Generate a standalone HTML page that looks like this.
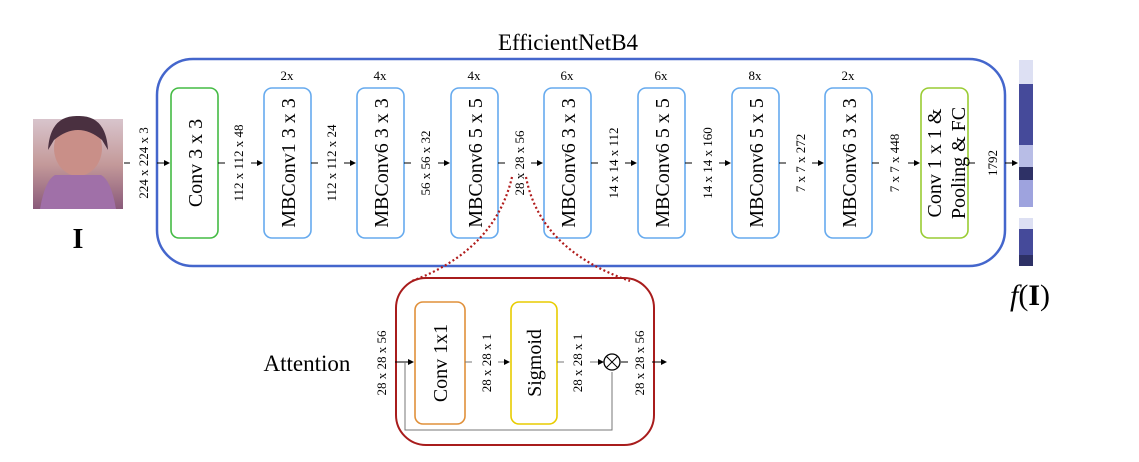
<!DOCTYPE html>
<html><head><meta charset="utf-8"><style>
body{margin:0;background:#fff;}
svg{display:block;font-family:"Liberation Serif",serif;}
</style></head><body>
<svg width="1139" height="462" viewBox="0 0 1139 462" xmlns="http://www.w3.org/2000/svg">
<defs>
<marker id="a" markerWidth="6" markerHeight="6" refX="5" refY="3" orient="auto" markerUnits="userSpaceOnUse"><path d="M0,0 L6,3 L0,6 z" fill="#000"/></marker>
<linearGradient id="face" x1="0" y1="0" x2="0" y2="1"><stop offset="0" stop-color="#d8c4cc"/><stop offset="0.5" stop-color="#c49a9a"/><stop offset="1" stop-color="#8a5a7a"/></linearGradient>
</defs>
<text x="568" y="50" font-size="23" text-anchor="middle">EfficientNetB4</text>
<rect x="157" y="59" width="848" height="207" rx="36" fill="none" stroke="#4466cc" stroke-width="2.5"/>
<!-- face -->
<rect x="33" y="119" width="90" height="90" fill="url(#face)"/>
<ellipse cx="78" cy="148" rx="24" ry="28" fill="#c98f88"/>
<path d="M48,150 Q50,115 78,116 Q106,115 108,150 L102,140 Q78,120 54,140 z" fill="#4a3040"/>
<path d="M40,209 Q45,180 55,175 L101,175 Q111,180 116,209 z" fill="#a070a8"/>
<text x="78" y="248" font-size="28" font-weight="bold" text-anchor="middle">I</text>
<g fill="none" stroke-width="1.6">
<rect x="171" y="88" width="47" height="150" rx="8" stroke="#44bb44"/>
<rect x="264" y="88" width="47" height="150" rx="8" stroke="#66aaee"/>
<rect x="357" y="88" width="47" height="150" rx="8" stroke="#66aaee"/>
<rect x="451" y="88" width="47" height="150" rx="8" stroke="#66aaee"/>
<rect x="544" y="88" width="47" height="150" rx="8" stroke="#66aaee"/>
<rect x="638" y="88" width="47" height="150" rx="8" stroke="#66aaee"/>
<rect x="732" y="88" width="47" height="150" rx="8" stroke="#66aaee"/>
<rect x="825" y="88" width="47" height="150" rx="8" stroke="#66aaee"/>
<rect x="921" y="88" width="47" height="150" rx="8" stroke="#99cc33"/>
</g>
<g stroke="#000" stroke-width="1">
<line x1="124" y1="163" x2="130" y2="163"/><line x1="157" y1="163" x2="169" y2="163" marker-end="url(#a)"/>
<line x1="218" y1="163" x2="225" y2="163"/><line x1="251" y1="163" x2="262" y2="163" marker-end="url(#a)"/>
<line x1="311" y1="163" x2="318" y2="163"/><line x1="344" y1="163" x2="355" y2="163" marker-end="url(#a)"/>
<line x1="404" y1="163" x2="411" y2="163"/><line x1="438" y1="163" x2="449" y2="163" marker-end="url(#a)"/>
<line x1="498" y1="163" x2="505" y2="163"/><line x1="531" y1="163" x2="542" y2="163" marker-end="url(#a)"/>
<line x1="591" y1="163" x2="598" y2="163"/><line x1="625" y1="163" x2="636" y2="163" marker-end="url(#a)"/>
<line x1="685" y1="163" x2="692" y2="163"/><line x1="719" y1="163" x2="730" y2="163" marker-end="url(#a)"/>
<line x1="779" y1="163" x2="786" y2="163"/><line x1="812" y1="163" x2="823" y2="163" marker-end="url(#a)"/>
<line x1="872" y1="163" x2="879" y2="163"/><line x1="908" y1="163" x2="919" y2="163" marker-end="url(#a)"/>
<line x1="968" y1="163" x2="975" y2="163"/><line x1="1005" y1="163" x2="1017" y2="163" marker-end="url(#a)"/>
</g>
<g font-size="20" text-anchor="middle">
<text transform="translate(202,163) rotate(-90)">Conv 3 x 3</text>
<text transform="translate(295,163) rotate(-90)">MBConv1 3 x 3</text>
<text transform="translate(388,163) rotate(-90)">MBConv6 3 x 3</text>
<text transform="translate(482,163) rotate(-90)">MBConv6 5 x 5</text>
<text transform="translate(575,163) rotate(-90)">MBConv6 3 x 3</text>
<text transform="translate(669,163) rotate(-90)">MBConv6 5 x 5</text>
<text transform="translate(763,163) rotate(-90)">MBConv6 5 x 5</text>
<text transform="translate(856,163) rotate(-90)">MBConv6 3 x 3</text>
<text transform="translate(941,163) rotate(-90)">Conv 1 x 1 &amp;</text>
<text transform="translate(965,163) rotate(-90)">Pooling &amp; FC</text>
</g>
<g font-size="13" text-anchor="middle">
<text x="287" y="80">2x</text><text x="380" y="80">4x</text><text x="474" y="80">4x</text>
<text x="567" y="80">6x</text><text x="661" y="80">6x</text><text x="755" y="80">8x</text><text x="848" y="80">2x</text>
</g>
<g font-size="13" text-anchor="middle">
<text transform="translate(148,163) rotate(-90)">224 x 224 x 3</text>
<text transform="translate(243,163) rotate(-90)">112 x 112 x 48</text>
<text transform="translate(336,163) rotate(-90)">112 x 112 x 24</text>
<text transform="translate(430,163) rotate(-90)">56 x 56 x 32</text>
<text transform="translate(524,163) rotate(-90)">28 x 28 x 56</text>
<text transform="translate(618,163) rotate(-90)">14 x 14 x 112</text>
<text transform="translate(712,163) rotate(-90)">14 x 14 x 160</text>
<text transform="translate(805,163) rotate(-90)">7 x 7 x 272</text>
<text transform="translate(899,163) rotate(-90)">7 x 7 x 448</text>
<text transform="translate(997,163) rotate(-90)">1792</text>
</g>
<rect x="1019" y="60" width="14" height="24" fill="#dde0f3"/>
<rect x="1019" y="84" width="14" height="61" fill="#454a9a"/>
<rect x="1019" y="145" width="14" height="22" fill="#b8bde6"/>
<rect x="1019" y="167" width="14" height="13" fill="#2e3166"/>
<rect x="1019" y="180" width="14" height="27" fill="#9ea3de"/>
<rect x="1019" y="218" width="14" height="11" fill="#dde0f3"/>
<rect x="1019" y="229" width="14" height="26" fill="#454a9a"/>
<rect x="1019" y="255" width="14" height="11" fill="#2e3166"/>
<text x="1030" y="305" font-size="30" text-anchor="middle"><tspan font-style="italic">f</tspan>(<tspan font-weight="bold">I</tspan>)</text>
<path d="M512,177 Q495,250 412,281" fill="none" stroke="#b01c1c" stroke-width="2.2" stroke-dasharray="2,2.5"/>
<path d="M526,177 Q540,250 630,281" fill="none" stroke="#b01c1c" stroke-width="2.2" stroke-dasharray="2,2.5"/>
<text x="307" y="371" font-size="23" text-anchor="middle">Attention</text>
<rect x="396" y="278" width="258" height="167" rx="30" fill="none" stroke="#a81c1c" stroke-width="2"/>
<rect x="415" y="302" width="50" height="122" rx="8" fill="none" stroke="#e0903a" stroke-width="1.6"/>
<rect x="511" y="302" width="46" height="122" rx="8" fill="none" stroke="#e8cc00" stroke-width="1.6"/>
<g font-size="20" text-anchor="middle">
<text transform="translate(447,363) rotate(-90)">Conv 1x1</text>
<text transform="translate(541,363) rotate(-90)">Sigmoid</text>
</g>
<g font-size="13" text-anchor="middle">
<text transform="translate(386,363) rotate(-90)">28 x 28 x 56</text>
<text transform="translate(491,363) rotate(-90)">28 x 28 x 1</text>
<text transform="translate(582,363) rotate(-90)">28 x 28 x 1</text>
<text transform="translate(644,363) rotate(-90)">28 x 28 x 56</text>
</g>
<g stroke="#000" stroke-width="1" fill="none">
<line x1="395" y1="362" x2="413" y2="362" marker-end="url(#a)"/>
<line x1="465" y1="362" x2="472" y2="362" stroke="#777"/><line x1="498" y1="362" x2="509" y2="362" marker-end="url(#a)" stroke="#777"/>
<line x1="557" y1="362" x2="564" y2="362" stroke="#777"/><line x1="590" y1="362" x2="603" y2="362" marker-end="url(#a)" stroke="#777"/>
<line x1="621" y1="362" x2="628" y2="362"/><line x1="652" y1="362" x2="666" y2="362" marker-end="url(#a)"/>
<polyline points="405,362 405,430 612,430 612,372" stroke="#777"/>
<circle cx="612" cy="362" r="8" stroke="#000" stroke-width="1.3"/>
<line x1="606.5" y1="356.5" x2="617.5" y2="367.5"/>
<line x1="617.5" y1="356.5" x2="606.5" y2="367.5"/>
</g>
</svg>
</body></html>
